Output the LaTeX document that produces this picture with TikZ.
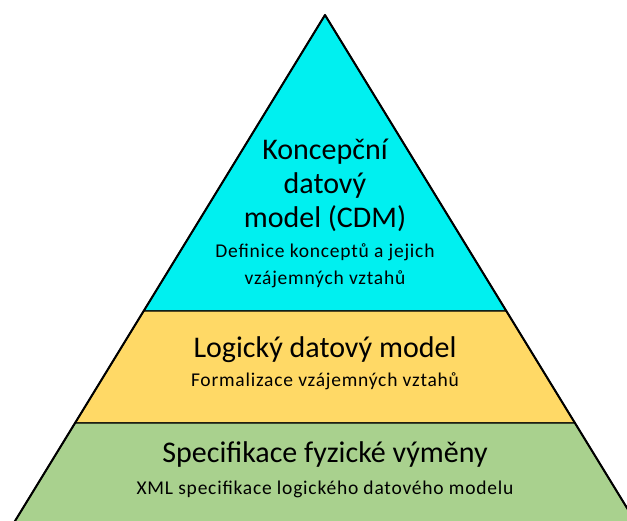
\documentclass[tikz,border=0pt]{standalone}
\usepackage{fontspec}
\setmainfont{Carlito}
\definecolor{layercyan}{HTML}{00F0F0}
\definecolor{layergold}{HTML}{FFD966}
\definecolor{layergreen}{HTML}{A9D18E}
\tikzset{
  layer/.style={draw=black, line width=1.4pt, line join=round},
  headline/.style={align=center, inner sep=0pt, font=\fontsize{30}{34}\selectfont},
  subline/.style={align=center, inner sep=0pt, font=\fontsize{19.5}{27}\selectfont\addfontfeatures{LetterSpace=4}},
}
\begin{document}
\begin{tikzpicture}[x=1pt, y=-1pt]
  \useasboundingbox (0,0) rectangle (627,521);
  \fill[white] (0,0) rectangle (627,521);
  \begin{scope}
    \clip (0,0) rectangle (627,521);
    % apex and slope points of the pyramid sides
    \coordinate (apex) at (325,15);
    \coordinate (cl) at (143.7,311);
    \coordinate (cr) at (506.3,311);
    \coordinate (gl) at (75.1,423);
    \coordinate (gr) at (574.9,423);
    \coordinate (bl) at (9.5,530);
    \coordinate (br) at (640.5,530);
    % layers, top to bottom
    \filldraw[layer, fill=layercyan] (apex) -- (cr) -- (cl) -- cycle;
    \filldraw[layer, fill=layergold] (cl) -- (cr) -- (gr) -- (gl) -- cycle;
    \filldraw[layer, fill=layergreen] (gl) -- (gr) -- (br) -- (bl) -- cycle;
    \draw[line width=2pt, line join=round] (bl) -- (apex) -- (br);
  \end{scope}
  % texts of the layers
  \node[headline] (cdm) at (325,185) {Koncepční\\datový\\model (CDM)};
  \node[subline] (cdmsub) at (325,266) {Definice konceptů a jejich\\vzájemných vztahů};
  \node[headline] (ldm) at (325,350) {Logický datový model};
  \node[subline] (ldmsub) at (325,381) {Formalizace vzájemných vztahů};
  \node[headline] (spec) at (325,455) {Specifikace fyzické výměny};
  \node[subline] (specsub) at (325,489) {XML specifikace logického datového modelu};
\end{tikzpicture}
\end{document}
